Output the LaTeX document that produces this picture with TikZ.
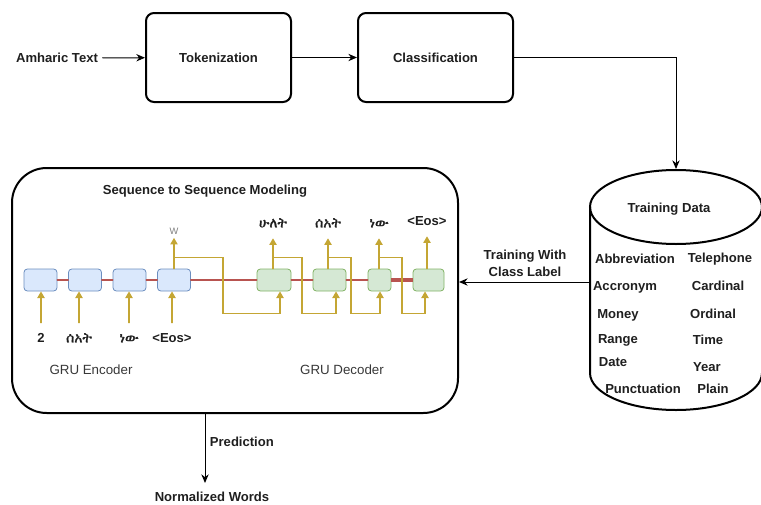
\documentclass[tikz,border=0pt]{standalone}
\usepackage{fontspec}
\setmainfont{Liberation Sans}
\IfFontExistsTF{FreeSerif}{\newfontfamily\ethfont[FakeBold=1.5]{FreeSerif}}{%
  \IfFontExistsTF{Abyssinica SIL}{\newfontfamily\ethfont{Abyssinica SIL}}{%
    \newfontfamily\ethfont{DejaVu Sans}}}
\usetikzlibrary{arrows.meta}
\usetikzlibrary{calc}

\definecolor{encfill}{RGB}{218,232,252}
\definecolor{encline}{RGB}{108,142,191}
\definecolor{decfill}{RGB}{213,232,212}
\definecolor{decline}{RGB}{130,179,102}
\definecolor{hidden}{RGB}{184,84,80}
\definecolor{feedc}{RGB}{196,166,52}

\begin{document}
\begin{tikzpicture}[x=0.75pt, y=-0.75pt, line cap=round,
    font=\bfseries\fontsize{9.8}{12.75}\selectfont, text=black!88,
    stage/.style={draw=black, line width=1.5pt, rounded corners=6pt, minimum height=66.75pt},
    link/.style={line width=0.75pt, -{Stealth[length=6.5pt, width=5.5pt]}},
    cell/.style={rounded corners=2.5pt, minimum height=16.5pt, inner sep=0pt, line width=0.6pt},
    enc/.style={cell, draw=encline, fill=encfill, minimum width=24.75pt},
    dec/.style={cell, draw=decline, fill=decfill},
    feed/.style={draw=feedc, line width=1pt, -{Triangle[length=5pt, width=5.5pt]}},
    word/.style={text height=7.5pt, text depth=1pt, inner sep=1pt},
    amh/.style={word, font=\ethfont\fontsize{10.5}{12}\selectfont},
    part/.style={font=\fontsize{10}{12}\selectfont, text=black!78}
  ]
    \useasboundingbox (0,0) rectangle (761,504);

    % pipeline on top
    \node (src) at (57,58) {Amharic Text};
    \node[stage, minimum width=108.75pt] (tok) at (218.5,57.5) {Tokenization};
    \node[stage, minimum width=116.25pt] (cls) at (435.5,57.5) {Classification};
    \coordinate (dbtop) at (676,169);
    \coordinate (dbleft) at (590,282);

    \draw[link] (src) -- (tok);
    \draw[link] (tok) -- (cls);
    \draw[link] (cls.east) -| (dbtop);

    % training data store
    \draw[line width=1.5pt, fill=white] (590,207) -- (590,373)
        arc[start angle=180, end angle=360, x radius=64.5pt, y radius=27.75pt] -- (762,207);
    \draw[line width=1.5pt] (676,207) ellipse [x radius=64.5pt, y radius=27.75pt];
    \node (tdata) at (669,209) {Training Data};
    \foreach \t/\x/\y in {Abbreviation/635/259, Telephone/720/259, Accronym/625/287,
        Cardinal/718/286, Money/618/315, Ordinal/713/314, Range/618/340, Time/708/340,
        Date/613/362, Year/707/367, Punctuation/643/389, Plain/713/389}
        \node (c-\t) at (\x,\y) {\t};

    % seq2seq block
    \node[draw, line width=1.5pt, rounded corners=26pt, minimum width=334.5pt,
        minimum height=183.75pt] (seq) at (235,290.5) {};
    \node (title) at (205,191) {Sequence to Sequence Modeling};
    \node[part] (genc) at (91,370) {GRU Encoder};
    \node[part] (gdec) at (342,370) {GRU Decoder};

    \draw[link] (dbleft) -- (seq.east |- dbleft);
    \node[align=center] (lbl) at (525,263) {Training With\\Class Label};

    \foreach \i/\x in {1/40.5, 2/85, 3/129.5, 4/174}
        \node[enc] (e\i) at (\x,280) {};
    \node[dec, minimum width=25.5pt] (d1) at (274,280) {};
    \node[dec, minimum width=24.75pt] (d2) at (329.5,280) {};
    \node[dec, minimum width=17.25pt] (d3) at (379.5,280) {};
    \node[dec, minimum width=23.25pt] (d4) at (428.5,280) {};

    \draw[hidden, line width=1.3pt] (e1) -- (e2) (e2) -- (e3) (e3) -- (e4)
        (e4) -- (d1) (d1) -- (d2) (d2) -- (d3);
    \draw[hidden, line width=2.4pt, line cap=butt] (d3) -- (d4);

    % encoder inputs
    \node[word] (i1) at (41,338) {2};
    \node[amh] (i2) at (79,338) {ሰአት};
    \node[amh] (i3) at (129,338) {ነው};
    \node[word] (i4) at (172,338) {<Eos>};
    \foreach \i in {1,...,4}
        \draw[feed, shorten <=6pt] (i\i.north) -- (e\i.south -| i\i.north);

    \node[font=\fontsize{7}{8}\selectfont, text=gray, inner sep=1pt] (w) at (174,231) {W};
    \draw[feed, shorten >=1.5pt] (e4.north) -- (w.south);

    % decoder outputs
    \node[amh] (o1) at (273,223) {ሁለት};
    \node[amh] (o2) at (328,223) {ሰአት};
    \node[amh] (o3) at (379,223) {ነው};
    \node[word] (o4) at (427,221) {<Eos>};
    \foreach \i in {1,...,4} {
        \coordinate (t\i) at (d\i.north -| o\i.south);
        \draw[feed, shorten >=6pt] (t\i) -- (o\i.south);
    }

    % state fed into the next step
    \draw[feed] ($(e4.north)+(0,-11)$) -- ++(49,0) |- ($(d1.south)+(6,22)$) -- ($(d1.south)+(6,0)$);
    \foreach \i/\j/\dx/\off in {1/2/29/6.5, 2/3/23/0.5, 3/4/23/-3.5}
        \draw[feed] ($(t\i)+(0,-11)$) -- ++(\dx,0) |- ($(d\j.south)+(\off,22)$) -- ($(d\j.south)+(\off,0)$);

    % prediction
    \node (out) at (212,497) {Normalized Words};
    \draw[link] ($(seq.south)+(-30,0)$) -- ($(seq.south)+(-30,69)$)
        node[right, pos=0.4] (pred) {Prediction};
\end{tikzpicture}
\end{document}
